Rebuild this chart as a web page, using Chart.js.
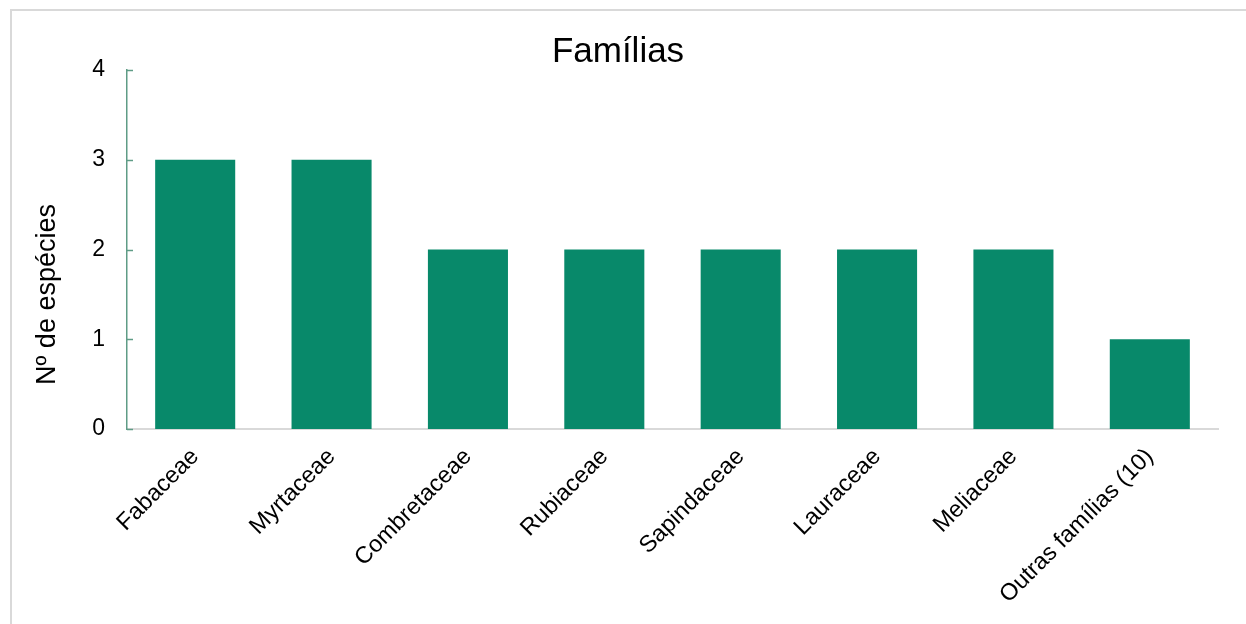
<!DOCTYPE html>
<html>
<head>
<meta charset="utf-8">
<script src="https://cdn.jsdelivr.net/npm/chart.js@4.4.1/dist/chart.umd.min.js"></script>
<style>
    html, body { margin: 0; padding: 0; background: #ffffff; }
    #wrap { position: relative; width: 1246px; height: 624px; overflow: hidden; }
    #frame {
        position: absolute; left: 10px; top: 9px; width: 1300px; height: 700px;
        border: 2px solid #d9d9d9; box-sizing: border-box;
    }
    #chart { position: absolute; left: 0; top: 0; }
</style>
</head>
<body>
<div id="wrap">
    <div id="frame"></div>
    <canvas id="chart" width="1246" height="624"></canvas>
</div>
<script>
"use strict";

// Data
const families = ['Fabaceae', 'Myrtaceae', 'Combretaceae', 'Rubiaceae', 'Sapindaceae', 'Lauraceae', 'Meliaceae', 'Outras famílias (10)'];
const speciesCount = [3, 3, 2, 2, 2, 2, 2, 1];
const yTicks = [0, 1, 2, 3, 4];

const FONT = "'Liberation Sans', Arial, sans-serif";
const GREEN = '#08896a';

// Excel-style inside tick marks on the y axis
const insideTicks = {
    id: 'insideTicks',
    afterDraw(chart) {
        const y = chart.scales.y;
        const ctx = chart.ctx;
        ctx.save();
        ctx.strokeStyle = '#5f9c86';
        ctx.lineWidth = 1.5;
        yTicks.forEach(v => {
            const py = Math.round(y.getPixelForValue(v)) + 0.5;
            ctx.beginPath();
            ctx.moveTo(y.right, py);
            ctx.lineTo(y.right + 6, py);
            ctx.stroke();
        });
        ctx.restore();
    }
};

new Chart(document.getElementById('chart').getContext('2d'), {
    type: 'bar',
    data: {
        labels: families,
        datasets: [{
            data: speciesCount,
            backgroundColor: GREEN,
            borderWidth: 0,
            categoryPercentage: 1,
            barPercentage: 0.587
        }]
    },
    options: {
        responsive: false,
        animation: false,
        layout: { padding: { left: 18, right: 28, top: 7, bottom: 0 } },
        plugins: {
            legend: { display: false },
            tooltip: { enabled: false },
            title: {
                display: true,
                text: 'Famílias',
                color: '#000000',
                font: { family: FONT, size: 35, weight: 'normal', lineHeight: 1.2 },
                padding: { top: 24, bottom: -3 }
            }
        },
        scales: {
            x: {
                grid: { display: false, drawTicks: false },
                border: { display: true, color: '#d9d9d9', width: 2 },
                ticks: {
                    color: '#000000',
                    font: { family: FONT, size: 23.5 },
                    minRotation: 45,
                    maxRotation: 45,
                    padding: 14
                },
                afterFit(scale) { scale.height = 624 - 429; }
            },
            y: {
                min: 0,
                max: 4,
                grid: { display: false, drawTicks: false },
                border: { display: true, color: '#5f9c86', width: 1.5 },
                ticks: {
                    stepSize: 1,
                    color: '#000000',
                    font: { family: FONT, size: 23 },
                    padding: 22
                },
                title: {
                    display: true,
                    // trailing spaces push the centred label down, as in the original layout
                    text: 'Nº de espécies            ',
                    color: '#000000',
                    font: { family: FONT, size: 27 },
                    padding: { top: 13, bottom: 0 }
                },
                afterFit(scale) { scale.width = 127 - 18; }
            }
        }
    },
    plugins: [insideTicks]
});
</script>
</body>
</html>
